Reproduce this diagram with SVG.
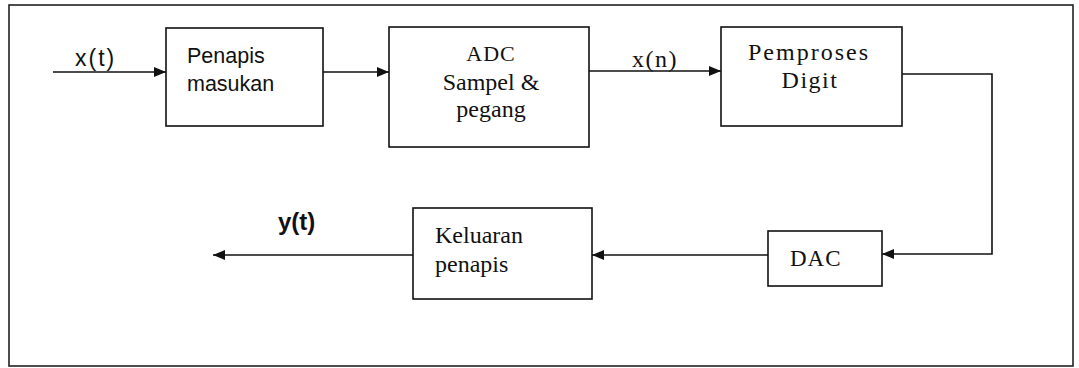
<svg xmlns="http://www.w3.org/2000/svg" width="1079" height="368" viewBox="0 0 1079 368">
<style>
.box{fill:#fff;stroke:#111;stroke-width:1.6}
.ln{fill:none;stroke:#111;stroke-width:1.6}
.serif{font-family:"Liberation Serif","Times New Roman",serif;font-size:24px;fill:#111}
.sans{font-family:"Liberation Sans",Arial,sans-serif;font-size:21.5px;fill:#111}
</style>
<defs>
<marker id="ah" viewBox="0 0 12 10" refX="12" refY="5" markerWidth="12" markerHeight="10" markerUnits="userSpaceOnUse" orient="auto">
<path d="M0,0 L12,5 L0,10 Z" fill="#111"/>
</marker>
</defs>
<rect x="0" y="0" width="1079" height="368" fill="#fff"/>
<rect id="frame" x="9" y="5" width="1064" height="361" fill="none" stroke="#222" stroke-width="1.6"/>
<g id="connectors">
<line class="ln" x1="53" y1="72" x2="166" y2="72" marker-end="url(#ah)"/>
<line class="ln" x1="323" y1="72" x2="389" y2="72" marker-end="url(#ah)"/>
<line class="ln" x1="589" y1="71" x2="721" y2="71" marker-end="url(#ah)"/>
<polyline class="ln" points="902,74 992,74 992,254 882,254" marker-end="url(#ah)"/>
<line class="ln" x1="768" y1="255" x2="592" y2="255" marker-end="url(#ah)"/>
<line class="ln" x1="413" y1="255" x2="213" y2="255" marker-end="url(#ah)"/>
<text class="sans" x="75" y="66" style="font-size:23px" letter-spacing="2">x(t)</text>
<text class="serif" x="632" y="67" letter-spacing="1.5">x(n)</text>
<text class="sans" x="278" y="230" style="font-weight:bold;font-size:24px">y(t)</text>
</g>
<g id="penapis-masukan">
<rect class="box" x="166" y="28" width="157" height="98"/>
<text class="sans" x="187" y="63">Penapis</text>
<text class="sans" x="187" y="91">masukan</text>
</g>
<g id="adc">
<rect class="box" x="389" y="27" width="200" height="120"/>
<text class="serif" x="491" y="61" text-anchor="middle" letter-spacing="1" style="font-size:22px">ADC</text>
<text class="serif" x="491" y="90" text-anchor="middle">Sampel &amp;</text>
<text class="serif" x="491" y="117" text-anchor="middle">pegang</text>
</g>
<g id="pemproses">
<rect class="box" x="721" y="27" width="181" height="99"/>
<text class="serif" x="809" y="60" text-anchor="middle" letter-spacing="2">Pemproses</text>
<text class="serif" x="810" y="88" text-anchor="middle" letter-spacing="1.5">Digit</text>
</g>
<g id="dac">
<rect class="box" x="768" y="231" width="114" height="55"/>
<text class="serif" x="790" y="266" letter-spacing="1" style="font-size:23px">DAC</text>
</g>
<g id="keluaran">
<rect class="box" x="413" y="208" width="179" height="91"/>
<text class="serif" x="435" y="243">Keluaran</text>
<text class="serif" x="435" y="272">penapis</text>
</g>
</svg>
